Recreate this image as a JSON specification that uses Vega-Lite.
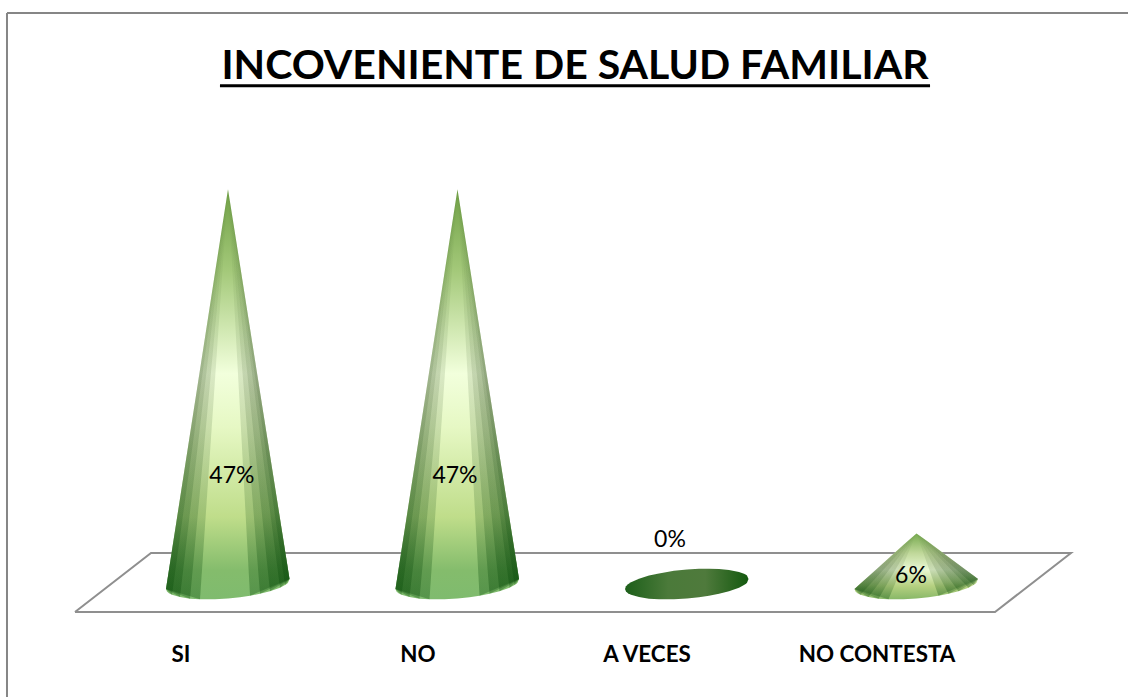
{
"$schema":"https://vega.github.io/schema/vega-lite/v6.json",
"autosize":{"type":"fit","contains":"padding"},
"width":1128,"height":697,"padding":0,
"background":"white",
"view":{"stroke":null},
"datasets":{
"cones":[
{"c":"SI","x":0.7298,"u":-0.6,"l":-0.6},{"c":"SI","x":0.7342,"u":0.18,"l":-0.89},{"c":"SI","x":0.7429,"u":1.71,"l":-1.1},{"c":"SI","x":0.756,"u":4.01,"l":-1.27},{"c":"SI","x":0.7908,"u":10.15,"l":-1.56},{"c":"SI","x":0.8344,"u":17.83,"l":-1.74},{"c":"SI","x":0.878,"u":25.52,"l":-1.81},{"c":"SI","x":0.9434,"u":37.04,"l":-1.81},{"c":"SI","x":1,"u":47,"l":-1.73},{"c":"SI","x":1.0523,"u":37.98,"l":-1.57},{"c":"SI","x":1.0959,"u":30.42,"l":-1.4},{"c":"SI","x":1.1394,"u":22.87,"l":-1.17},{"c":"SI","x":1.183,"u":15.32,"l":-0.87},{"c":"SI","x":1.2266,"u":7.77,"l":-0.44},{"c":"SI","x":1.2484,"u":4,"l":-0.13},{"c":"SI","x":1.2571,"u":2.5,"l":0.04},{"c":"SI","x":1.2614,"u":1.74,"l":0.14},{"c":"SI","x":1.268,"u":0.6,"l":0.6},
{"c":"NO","x":1.7298,"u":-0.6,"l":-0.6},{"c":"NO","x":1.7342,"u":0.18,"l":-0.89},{"c":"NO","x":1.7429,"u":1.71,"l":-1.1},{"c":"NO","x":1.756,"u":4.01,"l":-1.27},{"c":"NO","x":1.7908,"u":10.15,"l":-1.56},{"c":"NO","x":1.8344,"u":17.83,"l":-1.74},{"c":"NO","x":1.878,"u":25.52,"l":-1.81},{"c":"NO","x":1.9434,"u":37.04,"l":-1.81},{"c":"NO","x":2,"u":47,"l":-1.73},{"c":"NO","x":2.0523,"u":37.98,"l":-1.57},{"c":"NO","x":2.0959,"u":30.42,"l":-1.4},{"c":"NO","x":2.1394,"u":22.87,"l":-1.17},{"c":"NO","x":2.183,"u":15.32,"l":-0.87},{"c":"NO","x":2.2266,"u":7.77,"l":-0.44},{"c":"NO","x":2.2484,"u":4,"l":-0.13},{"c":"NO","x":2.2571,"u":2.5,"l":0.04},{"c":"NO","x":2.2614,"u":1.74,"l":0.14},{"c":"NO","x":2.268,"u":0.6,"l":0.6},
{"c":"A VECES","x":2.7298,"u":-0.6,"l":-0.6},{"c":"A VECES","x":2.7342,"u":-0.27,"l":-0.89},{"c":"A VECES","x":2.7429,"u":-0.04,"l":-1.1},{"c":"A VECES","x":2.756,"u":0.2,"l":-1.27},{"c":"A VECES","x":2.7908,"u":0.63,"l":-1.56},{"c":"A VECES","x":2.8344,"u":1,"l":-1.74},{"c":"A VECES","x":2.878,"u":1.26,"l":-1.81},{"c":"A VECES","x":2.9434,"u":1.57,"l":-1.81},{"c":"A VECES","x":3,"u":1.73,"l":-1.73},{"c":"A VECES","x":3.0523,"u":1.81,"l":-1.57},{"c":"A VECES","x":3.0959,"u":1.83,"l":-1.4},{"c":"A VECES","x":3.1394,"u":1.79,"l":-1.17},{"c":"A VECES","x":3.183,"u":1.68,"l":-0.87},{"c":"A VECES","x":3.2266,"u":1.44,"l":-0.44},{"c":"A VECES","x":3.2484,"u":1.23,"l":-0.13},{"c":"A VECES","x":3.2571,"u":1.1,"l":0.04},{"c":"A VECES","x":3.2614,"u":1,"l":0.14},{"c":"A VECES","x":3.268,"u":0.6,"l":0.6},
{"c":"NO CONTESTA","x":3.7298,"u":-0.6,"l":-0.6},{"c":"NO CONTESTA","x":3.7342,"u":-0.49,"l":-0.89},{"c":"NO CONTESTA","x":3.7429,"u":-0.27,"l":-1.1},{"c":"NO CONTESTA","x":3.756,"u":0.05,"l":-1.27},{"c":"NO CONTESTA","x":3.7908,"u":0.9,"l":-1.56},{"c":"NO CONTESTA","x":3.8344,"u":1.98,"l":-1.74},{"c":"NO CONTESTA","x":3.878,"u":3.06,"l":-1.81},{"c":"NO CONTESTA","x":3.9434,"u":4.68,"l":-1.81},{"c":"NO CONTESTA","x":4,"u":6,"l":-1.73},{"c":"NO CONTESTA","x":4.0523,"u":5,"l":-1.57},{"c":"NO CONTESTA","x":4.0959,"u":4.11,"l":-1.4},{"c":"NO CONTESTA","x":4.1394,"u":3.23,"l":-1.17},{"c":"NO CONTESTA","x":4.183,"u":2.33,"l":-0.87},{"c":"NO CONTESTA","x":4.2266,"u":1.44,"l":-0.44},{"c":"NO CONTESTA","x":4.2484,"u":1,"l":-0.13},{"c":"NO CONTESTA","x":4.2571,"u":0.82,"l":0.04},{"c":"NO CONTESTA","x":4.2614,"u":0.73,"l":0.14},{"c":"NO CONTESTA","x":4.268,"u":0.6,"l":0.6}
],
"shades":[
{"s":"a1","x":0.7298,"u":-0.6,"l":-0.6},{"s":"a1","x":0.756,"u":4.01,"l":-1.27},{"s":"a1","x":1,"u":47,"l":47},
{"s":"a2","x":0.7298,"u":-0.6,"l":-0.6},{"s":"a2","x":0.7908,"u":10.15,"l":-1.56},{"s":"a2","x":1,"u":47,"l":47},
{"s":"a3","x":0.7298,"u":-0.6,"l":-0.6},{"s":"a3","x":0.8344,"u":17.83,"l":-1.74},{"s":"a3","x":1,"u":47,"l":47},
{"s":"a4","x":0.7298,"u":-0.6,"l":-0.6},{"s":"a4","x":0.878,"u":25.52,"l":-1.81},{"s":"a4","x":1,"u":47,"l":47},
{"s":"a5","x":1,"u":47,"l":47},{"s":"a5","x":1.2484,"u":4,"l":-0.13},{"s":"a5","x":1.268,"u":0.6,"l":0.6},
{"s":"a6","x":1,"u":47,"l":47},{"s":"a6","x":1.2266,"u":7.77,"l":-0.44},{"s":"a6","x":1.268,"u":0.6,"l":0.6},
{"s":"a7","x":1,"u":47,"l":47},{"s":"a7","x":1.183,"u":15.32,"l":-0.87},{"s":"a7","x":1.268,"u":0.6,"l":0.6},
{"s":"a8","x":1,"u":47,"l":47},{"s":"a8","x":1.1394,"u":22.87,"l":-1.17},{"s":"a8","x":1.268,"u":0.6,"l":0.6},
{"s":"a9","x":1,"u":47,"l":47},{"s":"a9","x":1.0959,"u":30.42,"l":-1.4},{"s":"a9","x":1.268,"u":0.6,"l":0.6},
{"s":"b1","x":1.7298,"u":-0.6,"l":-0.6},{"s":"b1","x":1.756,"u":4.01,"l":-1.27},{"s":"b1","x":2,"u":47,"l":47},
{"s":"b2","x":1.7298,"u":-0.6,"l":-0.6},{"s":"b2","x":1.7908,"u":10.15,"l":-1.56},{"s":"b2","x":2,"u":47,"l":47},
{"s":"b3","x":1.7298,"u":-0.6,"l":-0.6},{"s":"b3","x":1.8344,"u":17.83,"l":-1.74},{"s":"b3","x":2,"u":47,"l":47},
{"s":"b4","x":1.7298,"u":-0.6,"l":-0.6},{"s":"b4","x":1.878,"u":25.52,"l":-1.81},{"s":"b4","x":2,"u":47,"l":47},
{"s":"b5","x":2,"u":47,"l":47},{"s":"b5","x":2.2484,"u":4,"l":-0.13},{"s":"b5","x":2.268,"u":0.6,"l":0.6},
{"s":"b6","x":2,"u":47,"l":47},{"s":"b6","x":2.2266,"u":7.77,"l":-0.44},{"s":"b6","x":2.268,"u":0.6,"l":0.6},
{"s":"b7","x":2,"u":47,"l":47},{"s":"b7","x":2.183,"u":15.32,"l":-0.87},{"s":"b7","x":2.268,"u":0.6,"l":0.6},
{"s":"b8","x":2,"u":47,"l":47},{"s":"b8","x":2.1394,"u":22.87,"l":-1.17},{"s":"b8","x":2.268,"u":0.6,"l":0.6},
{"s":"b9","x":2,"u":47,"l":47},{"s":"b9","x":2.0959,"u":30.42,"l":-1.4},{"s":"b9","x":2.268,"u":0.6,"l":0.6},
{"s":"c1","x":3.7298,"u":-0.6,"l":-0.6},{"s":"c1","x":3.756,"u":0.05,"l":-1.27},{"s":"c1","x":4,"u":6,"l":6},
{"s":"c2","x":3.7298,"u":-0.6,"l":-0.6},{"s":"c2","x":3.7908,"u":0.9,"l":-1.56},{"s":"c2","x":4,"u":6,"l":6},
{"s":"c3","x":3.7298,"u":-0.6,"l":-0.6},{"s":"c3","x":3.8344,"u":1.98,"l":-1.74},{"s":"c3","x":4,"u":6,"l":6},
{"s":"c4","x":3.7298,"u":-0.6,"l":-0.6},{"s":"c4","x":3.878,"u":3.06,"l":-1.81},{"s":"c4","x":4,"u":6,"l":6},
{"s":"c5","x":4,"u":6,"l":6},{"s":"c5","x":4.2484,"u":1,"l":-0.13},{"s":"c5","x":4.268,"u":0.6,"l":0.6},
{"s":"c6","x":4,"u":6,"l":6},{"s":"c6","x":4.2266,"u":1.44,"l":-0.44},{"s":"c6","x":4.268,"u":0.6,"l":0.6},
{"s":"c7","x":4,"u":6,"l":6},{"s":"c7","x":4.183,"u":2.33,"l":-0.87},{"s":"c7","x":4.268,"u":0.6,"l":0.6},
{"s":"c8","x":4,"u":6,"l":6},{"s":"c8","x":4.1394,"u":3.23,"l":-1.17},{"s":"c8","x":4.268,"u":0.6,"l":0.6},
{"s":"c9","x":4,"u":6,"l":6},{"s":"c9","x":4.0959,"u":4.11,"l":-1.4},{"s":"c9","x":4.268,"u":0.6,"l":0.6}
],
"floor":[
{"o":1,"x":0.3333,"y":-3.33},{"o":2,"x":0.6645,"y":3.69},{"o":3,"x":4.6732,"y":3.69},{"o":4,"x":4.3421,"y":-3.33},{"o":5,"x":0.3333,"y":-3.33}
],
"cats":[
{"c":"SI","x":0.795,"y":-8.45,"pct":0.47,"lx":1.017,"ly":12.86},
{"c":"NO","x":1.828,"y":-8.45,"pct":0.47,"lx":1.989,"ly":12.86},
{"c":"A VECES","x":2.826,"y":-8.45,"pct":0,"lx":2.926,"ly":5.24},
{"c":"NO CONTESTA","x":3.828,"y":-8.45,"pct":0.06,"lx":3.976,"ly":0.95}
]
},
"data":{"name":"cones"},
"encoding":{
"x":{"field":"x","type":"quantitative","scale":{"domain":[0.00654,4.9216],"nice":false,"zero":false},"axis":null},
"y":{"field":"u","type":"quantitative","scale":{"domain":[-13.45,69.52],"nice":false,"zero":false},"axis":null}
},
"layer":[
{"data":{"values":[{"x":0.037,"x2":0.037,"y":67.98,"y2":-13.45},{"x":0.037,"x2":4.9216,"y":67.98,"y2":67.98}]},
 "mark":{"type":"rule","stroke":"#868686","strokeWidth":2,"clip":true},
 "encoding":{"x":{"field":"x","type":"quantitative"},"x2":{"field":"x2"},"y":{"field":"y","type":"quantitative"},"y2":{"field":"y2"}}},
{"data":{"name":"floor"},
 "mark":{"type":"line","stroke":"#8f8f8f","strokeWidth":2,"strokeJoin":"miter"},
 "encoding":{"x":{"field":"x","type":"quantitative"},"y":{"field":"y","type":"quantitative"},"order":{"field":"o"}}},
{"transform":[{"filter":"datum.c==='SI'||datum.c==='NO'"}],
 "mark":{"type":"area","interpolate":"linear","fill":{"gradient":"linear","x1":0,"y1":0,"x2":0,"y2":1,"stops":[{"offset":0,"color":"#6f9f45"},{"offset":0.2,"color":"#a4c97a"},{"offset":0.45,"color":"#f2ffdc"},{"offset":0.58,"color":"#e6f8c4"},{"offset":0.8,"color":"#bfdd8a"},{"offset":0.93,"color":"#84bc6c"},{"offset":1,"color":"#7fbb6e"}]}},
 "encoding":{"y2":{"field":"l"},"detail":{"field":"c"}}},
{"transform":[{"filter":"datum.c==='A VECES'"}],
 "mark":{"type":"area","fill":{"gradient":"linear","x1":0,"y1":0,"x2":1,"y2":0,"stops":[{"offset":0,"color":"#1d5f1a"},{"offset":0.35,"color":"#4b7a3a"},{"offset":0.65,"color":"#4f7a3c"},{"offset":1,"color":"#14590f"}]}},
 "encoding":{"y2":{"field":"l"}}},
{"transform":[{"filter":"datum.c==='NO CONTESTA'"}],
 "mark":{"type":"area","fill":{"gradient":"linear","x1":0,"y1":0,"x2":0,"y2":1,"stops":[{"offset":0,"color":"#78ab50"},{"offset":0.3,"color":"#c0d89a"},{"offset":0.55,"color":"#e8f7d2"},{"offset":0.8,"color":"#b5d080"},{"offset":1,"color":"#88b868"}]}},
 "encoding":{"y2":{"field":"l"}}},
{"data":{"name":"shades"},
 "mark":{"type":"area","fill":{"gradient":"linear","x1":0,"y1":0,"x2":0,"y2":1,"stops":[{"offset":0,"color":"rgba(60,100,40,0.02)"},{"offset":0.5,"color":"rgba(50,80,35,0.14)"},{"offset":0.8,"color":"rgba(20,80,20,0.2)"},{"offset":1,"color":"rgba(8,75,8,0.34)"}]}},
 "encoding":{"y":{"field":"u","type":"quantitative"},"y2":{"field":"l"},"detail":{"field":"s"},"x":{"field":"x","type":"quantitative"}}},
{"data":{"name":"cats"},
 "mark":{"type":"text","font":"Lato","fontSize":23,"fontWeight":"normal","color":"#000","baseline":"middle","align":"center"},
 "encoding":{"x":{"field":"lx","type":"quantitative"},"y":{"field":"ly","type":"quantitative"},"text":{"field":"pct","type":"quantitative","format":".0%"}}},
{"data":{"name":"cats"},
 "mark":{"type":"text","font":"Lato","fontSize":22.4,"fontWeight":"bold","color":"#000","baseline":"middle","align":"center"},
 "encoding":{"x":{"field":"x","type":"quantitative"},"y":{"field":"y","type":"quantitative"},"text":{"field":"c","type":"nominal"}}},
{"data":{"values":[{"t":"INCOVENIENTE DE SALUD FAMILIAR","x":2.512,"y":61.55,"a":0.965,"b":4.059,"r":59.3}]},
 "layer":[
 {"mark":{"type":"text","font":"Lato","fontSize":41,"fontWeight":"bold","color":"#000","baseline":"middle","align":"center"},
  "encoding":{"x":{"field":"x","type":"quantitative"},"y":{"field":"y","type":"quantitative"},"text":{"field":"t"}}},
 {"mark":{"type":"rule","color":"#000","strokeWidth":3},
  "encoding":{"x":{"field":"a","type":"quantitative"},"x2":{"field":"b"},"y":{"field":"r","type":"quantitative"}}}
 ]}
]
}
